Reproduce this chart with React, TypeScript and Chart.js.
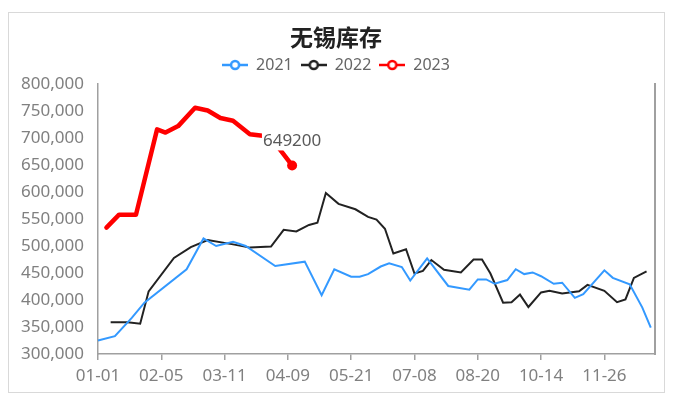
import React, { useEffect, useRef } from 'react';
import { Chart, registerables } from 'chart.js';

Chart.register(...registerables);

const title = '无锡库存';

const categories = [
  '01-01', '01-06', '01-07', '01-08', '01-13', '01-14', '01-15', '01-20', '01-21', '01-22', '01-27', '01-28', '01-29', '02-03', '02-04',
  '02-05', '02-10', '02-11', '02-12', '02-17', '02-18', '02-19', '02-24', '02-25', '02-26', '03-03', '03-04', '03-05', '03-08', '03-10',
  '03-11', '03-12', '03-15', '03-17', '03-18', '03-19', '03-24', '03-25', '03-26', '03-31', '04-01', '04-02', '04-06', '04-07', '04-08',
  '04-09', '04-14', '04-15', '04-16', '04-21', '04-22', '04-23', '04-28', '04-29', '04-30', '05-06', '05-07', '05-13', '05-14', '05-20',
  '05-21', '05-27', '05-28', '06-03', '06-04', '06-10', '06-11', '06-17', '06-18', '06-24', '06-25', '07-01', '07-02', '07-06', '07-07',
  '07-08', '07-09', '07-15', '07-16', '07-22', '07-23', '07-29', '07-30', '08-05', '08-06', '08-12', '08-13', '08-17', '08-18', '08-19',
  '08-20', '08-26', '08-27', '09-02', '09-03', '09-09', '09-10', '09-16', '09-17', '09-23', '09-24', '09-30', '10-08', '10-12', '10-13',
  '10-14', '10-15', '10-21', '10-22', '10-28', '10-29', '11-04', '11-05', '11-11', '11-12', '11-18', '11-19', '11-23', '11-24', '11-25',
  '11-26', '12-02', '12-03', '12-09', '12-10', '12-16', '12-17', '12-23', '12-24', '12-28', '12-29', '12-30', '12-31',
];

const labelEvery = 15;

const dates2021 = [
  '01-01', '01-13', '01-21', '01-28', '02-19', '03-03', '03-08', '03-15', '03-19', '04-06',
  '04-21', '04-29', '05-07', '05-21', '05-28', '06-04', '06-17', '06-24', '07-02', '07-07',
  '07-16', '08-05', '08-18', '08-20', '08-27', '09-03', '09-16', '09-23', '09-30', '10-12',
  '10-14', '10-22', '10-29', '11-11', '11-18', '11-26', '12-03', '12-17', '12-28', '12-30',
];
const values2021 = [
  325000, 333000, 367000, 395000, 457000, 514000, 500000, 508000, 500000, 463000,
  471000, 409000, 457000, 443000, 443000, 448000, 462000, 468000, 461000, 436000,
  477000, 426000, 419000, 438000, 438000, 430000, 437000, 457000, 448000, 451000,
  444000, 430000, 432000, 404000, 411000, 455000, 441000, 429000, 386000, 349000,
];

const dates2022 = [
  '01-08', '01-20', '01-27', '01-29', '02-12', '02-24', '03-04', '03-15', '03-24', '04-02',
  '04-08', '04-15', '04-22', '04-28', '04-30', '05-13', '05-27', '06-04', '06-11', '06-18',
  '06-25', '07-06', '07-08', '07-15', '07-22', '07-30', '08-13', '08-19', '08-26', '09-02',
  '09-10', '09-17', '09-24', '10-08', '10-14', '10-21', '10-29', '11-12', '11-19', '11-26',
  '12-09', '12-16', '12-23', '12-29',
];
const values2022 = [
  359000, 359000, 356000, 416000, 478000, 498000, 511000, 503000, 497000, 499000,
  530000, 527000, 539000, 543000, 598000, 578000, 568000, 554000, 549000, 532000,
  486000, 494000, 449000, 454000, 474000, 456000, 451000, 475000, 475000, 449000,
  395000, 396000, 410000, 387000, 414000, 417000, 412000, 416000, 428000, 417000,
  396000, 401000, 441000, 453000,
];

const dates2023 = [
  '01-07', '01-14', '01-22', '02-04', '02-10', '02-17', '02-25', '03-04', '03-10', '03-15',
  '03-24', '03-31', '04-07', '04-14',
];
const values2023 = [
  534000, 558000, 558000, 716000, 710000, 722000, 756000, 751000, 737000, 732000,
  707000, 704000, 680000, 649200,
];

const seriesNames = ['2021', '2022', '2023'];
const seriesColors = ['#3399ff', '#222222', '#ff0000'];

const yMin = 300000;
const yMax = 800000;
const yStep = 50000;

function toSeries(dates: string[], values: number[]) {
  return categories.map((c) => {
    const k = dates.indexOf(c);
    return k >= 0 ? values[k] : null;
  });
}

function makeIcon(color: string) {
  const c = document.createElement('canvas');
  c.width = 26;
  c.height = 12;
  const g = c.getContext('2d')!;
  g.strokeStyle = color;
  g.lineWidth = 2.5;
  g.beginPath();
  g.moveTo(0, 6);
  g.lineTo(26, 6);
  g.stroke();
  g.beginPath();
  g.arc(13, 6, 4, 0, Math.PI * 2);
  g.fillStyle = '#ffffff';
  g.fill();
  g.stroke();
  return c;
}

export default function App() {
  const ref = useRef<HTMLCanvasElement>(null);

  useEffect(() => {
    document.body.style.margin = '0';
    const canvas = ref.current!;
    const icons = seriesColors.map(makeIcon);
    const d2021 = toSeries(dates2021, values2021);
    const d2022 = toSeries(dates2022, values2022);
    const d2023 = toSeries(dates2023, values2023);
    let last2023 = 0;
    d2023.forEach((v, i) => {
      if (v !== null) last2023 = i;
    });

    const legendPad = {
      id: 'legendPad',
      beforeLayout(chart: any) {
        const lg = chart.legend;
        if (lg && !lg._padPatched) {
          const orig = lg.fit.bind(lg);
          lg.fit = function () {
            orig();
            this.height += 1;
          };
          lg._padPatched = true;
        }
      },
    };

    const lastLabel = {
      id: 'lastLabel',
      afterDatasetsDraw(chart: any) {
        const meta = chart.getDatasetMeta(2);
        const pt = meta.data[last2023];
        if (!pt) return;
        const ctx = chart.ctx;
        const text = String(d2023[last2023]);
        ctx.save();
        ctx.font = '17px "Noto Sans"';
        const w = ctx.measureText(text).width;
        const x = pt.x;
        const y = pt.y - 24;
        ctx.fillStyle = '#ffffff';
        ctx.fillRect(x - w / 2 - 1, y - 9, w + 2, 18);
        ctx.fillStyle = '#595959';
        ctx.textAlign = 'center';
        ctx.textBaseline = 'middle';
        ctx.fillText(text, x, y);
        ctx.restore();
      },
    };

    const chart = new Chart(canvas, {
      type: 'line',
      data: {
        labels: categories,
        datasets: [
          {
            label: seriesNames[0],
            data: d2021,
            borderColor: seriesColors[0],
            backgroundColor: seriesColors[0],
            borderWidth: 2,
            pointRadius: 0,
            spanGaps: true,
            tension: 0,
          },
          {
            label: seriesNames[1],
            data: d2022,
            borderColor: seriesColors[1],
            backgroundColor: seriesColors[1],
            borderWidth: 2,
            pointRadius: 0,
            spanGaps: true,
            tension: 0,
          },
          {
            label: seriesNames[2],
            data: d2023,
            borderColor: seriesColors[2],
            backgroundColor: seriesColors[2],
            borderWidth: 4.5,
            borderJoinStyle: 'round',
            borderCapStyle: 'round',
            pointRadius: (c: any) => (c.dataIndex === last2023 ? 5 : 0),
            pointBorderWidth: 0,
            pointBackgroundColor: seriesColors[2],
            spanGaps: true,
            tension: 0,
          },
        ],
      } as any,
      options: {
        responsive: false,
        animation: false,
        layout: { padding: { left: 0, right: 7, top: 0, bottom: 0 } },
        plugins: {
          title: {
            display: true,
            text: title,
            color: '#222222',
            font: { family: '"Noto Sans CJK SC", "Noto Sans"', size: 23, weight: 'bold', lineHeight: 1.0 },
            padding: { top: 26, bottom: 0 },
          },
          legend: {
            display: true,
            labels: {
              usePointStyle: true,
              pointStyleWidth: 26,
              padding: 8,
              color: '#666666',
              font: { family: '"Noto Sans"', size: 16 },
              generateLabels: (ch: any) =>
                ch.data.datasets.map((ds: any, i: number) => ({
                  text: ds.label,
                  pointStyle: icons[i],
                  fillStyle: seriesColors[i],
                  strokeStyle: seriesColors[i],
                  lineWidth: 0,
                  hidden: false,
                  datasetIndex: i,
                  fontColor: '#666666',
                })),
            },
          },
          tooltip: { enabled: false },
        },
        scales: {
          x: {
            type: 'category',
            offset: false,
            afterBuildTicks: (scale: any) => {
              scale.ticks = scale.ticks.filter((t: any) => t.value % labelEvery === 0);
            },
            afterFit: (scale: any) => {
              scale.height = 52;
            },
            ticks: {
              autoSkip: false,
              maxRotation: 0,
              minRotation: 0,
              padding: 6,
              color: '#808080',
              font: { family: '"Noto Sans"', size: 17 },
            },
            grid: {
              display: true,
              drawOnChartArea: false,
              drawTicks: true,
              tickLength: 6,
              color: '#a0a0a0',
              lineWidth: 1.5,
            },
            border: { display: true, color: '#a0a0a0', width: 1.5 },
          },
          y: {
            type: 'linear',
            position: 'left',
            min: yMin,
            max: yMax,
            afterFit: (scale: any) => {
              scale.width = 98;
            },
            ticks: {
              stepSize: yStep,
              padding: 14,
              color: '#808080',
              font: { family: '"Noto Sans"', size: 17 },
              callback: (v: any) => Number(v).toLocaleString('en-US'),
            },
            grid: { display: false, drawTicks: false },
            border: { display: true, color: '#a0a0a0', width: 1.5 },
          },
          y2: {
            type: 'linear',
            position: 'right',
            afterFit: (scale: any) => {
              scale.width = 17;
            },
            ticks: { display: false },
            grid: { display: false, drawTicks: false },
            border: { display: true, color: '#a0a0a0', width: 2 },
          },
        },
      } as any,
      plugins: [legendPad, lastLabel],
    });

    return () => chart.destroy();
  }, []);

  return (
    <div style={{ position: 'absolute', left: 0, top: 0, width: 679, height: 406, background: '#ffffff' }}>
      <canvas ref={ref} width={679} height={406} style={{ position: 'absolute', left: 0, top: 0, width: 679, height: 406 }} />
      <div
        style={{
          position: 'absolute',
          left: 8,
          top: 12,
          width: 657,
          height: 381,
          border: '1px solid #d9d9d9',
          pointerEvents: 'none',
          boxSizing: 'border-box',
        }}
      />
    </div>
  );
}
